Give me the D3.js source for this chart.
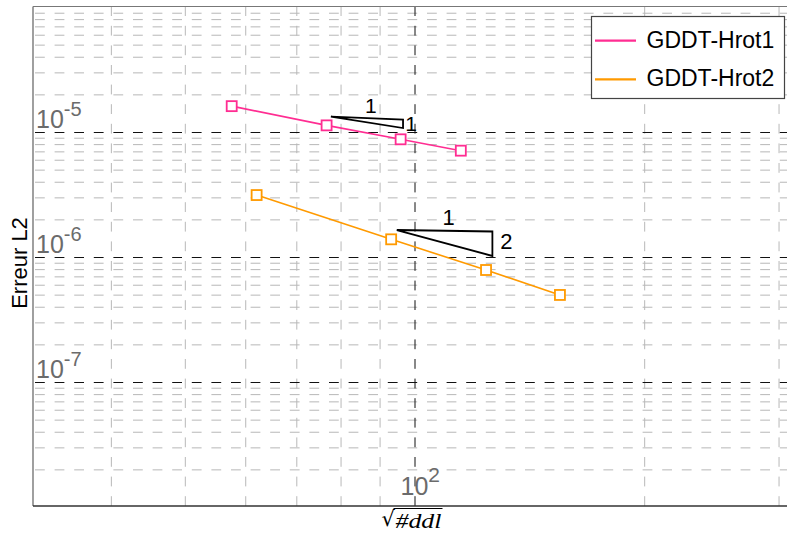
<!DOCTYPE html>
<html><head><meta charset="utf-8">
<script src="https://cdn.jsdelivr.net/npm/d3@7"></script>
<style>body{margin:0;background:#fff;overflow:hidden} svg{display:block}</style>
</head><body>
<svg id="c" width="787" height="533"></svg>
<script>
// ---- data ----
const seriesNames = ["GDDT-Hrot1", "GDDT-Hrot2"];
const seriesColors = ["#ff2d92", "#ff9a00"];
const hrot1X = [57.6, 76.7, 95.9, 115.0];
const hrot1Y = [1.61e-5, 1.13e-5, 8.74e-6, 7.09e-6];
const hrot2X = [62.1, 93.2, 124.1, 155.1];
const hrot2Y = [3.13e-6, 1.385e-6, 7.87e-7, 4.97e-7];
const tri1X = [77.7, 96.6, 96.6];
const tri1Y = [1.326e-5, 1.259e-5, 1.076e-5];
const tri1Labels = ["1", "1"];
const tri2X = [94.8, 126.5, 126.5];
const tri2Y = [1.644e-6, 1.60e-6, 1.019e-6];
const tri2Labels = ["1", "2"];
const yMajorTicks = [1e-5, 1e-6, 1e-7];
const yTickExp = ["-5", "-6", "-7"];
const xMajorTicks = [100];
const xTickExp = ["2"];
const yLabel = "Erreur L2";

// ---- layout ----
const L = 33, R = 796, T = 7, B = 507;
const svg = d3.select("#c");
const x = d3.scaleLog().domain([Math.pow(10, 1.5), Math.pow(10, 2.5)]).range([L, R]);
const y = d3.scaleLog().domain([1e-8, 1e-4]).range([B, T]);
const W = R - L, H = B - T;
const font = "'Liberation Sans', Arial, Helvetica, sans-serif";

const isMajor = v => Math.abs(Math.log10(v) - Math.round(Math.log10(v))) < 1e-9;
const xMinor = x.ticks().filter(v => !isMajor(v));
const yMinor = y.ticks().filter(v => !isMajor(v));

function hGrid(vals, color) {
  const g = svg.append("g").attr("transform", `translate(${L},0)`)
    .call(d3.axisLeft(y).tickValues(vals).tickSize(-W).tickFormat(""));
  g.select(".domain").remove();
  g.selectAll("line").attr("stroke", color).attr("stroke-width", 1)
    .attr("stroke-dasharray", "9.8,9.8").attr("stroke-dashoffset", 17.6);
}
function vGrid(vals, color) {
  const g = svg.append("g").attr("transform", `translate(0,${B - 1})`)
    .call(d3.axisBottom(x).tickValues(vals).tickSize(-(H - 1)).tickFormat(""));
  g.select(".domain").remove();
  g.selectAll("line").attr("stroke", color).attr("stroke-width", 1)
    .attr("stroke-dasharray", "9.8,9.8");
}
hGrid(yMinor, "#b8b8b8");
vGrid(xMinor, "#b8b8b8");
hGrid(yMajorTicks, "#111");
vGrid(xMajorTicks, "#111");

// frame
svg.append("line").attr("x1", L).attr("x2", L).attr("y1", T - 0.5).attr("y2", B - 1)
  .attr("stroke", "#777").attr("stroke-width", 1.4);
svg.append("line").attr("x1", L).attr("x2", 787).attr("y1", T - 0.5).attr("y2", T - 0.5)
  .attr("stroke", "#777").attr("stroke-width", 1.2);
svg.append("line").attr("x1", L).attr("x2", 787).attr("y1", B - 1).attr("y2", B - 1)
  .attr("stroke", "#333").attr("stroke-width", 1.3);

// tick labels (inside plot)
yMajorTicks.forEach((v, i) => {
  const t = svg.append("text").attr("x", L + 3).attr("y", y(v) - 4)
    .attr("font-family", font).attr("font-size", 25).attr("fill", "#6b6b6b");
  t.append("tspan").text("10");
  t.append("tspan").attr("dy", -12).attr("font-size", 20).text(yTickExp[i]);
});
xMajorTicks.forEach((v, i) => {
  const t = svg.append("text").attr("x", x(v) - 14).attr("y", B - 12)
    .attr("font-family", font).attr("font-size", 25).attr("fill", "#6b6b6b");
  t.append("tspan").text("10");
  t.append("tspan").attr("dy", -13).attr("font-size", 21).text(xTickExp[i]);
});

// axis labels
svg.append("text").attr("transform", `translate(26.5,263) rotate(-90)`)
  .attr("text-anchor", "middle").attr("font-family", font).attr("font-size", 22)
  .attr("fill", "#000").text(yLabel);
const xc = x(100);
svg.append("text").attr("x", xc - 33).attr("y", 526).attr("font-family", "'DejaVu Sans', sans-serif")
  .attr("font-size", 21).attr("fill", "#000").text("\u221A");
svg.append("line").attr("x1", xc - 21).attr("x2", xc + 28).attr("y1", 508.5).attr("y2", 508.5)
  .attr("stroke", "#000").attr("stroke-width", 1);
svg.append("text").attr("x", xc - 19).attr("y", 528).attr("font-family", "'Liberation Serif', 'Times New Roman', serif")
  .attr("font-style", "italic").attr("font-size", 21).attr("fill", "#000")
  .attr("textLength", 46).attr("lengthAdjust", "spacingAndGlyphs").text("#ddl");

// series
const series = [
  { name: seriesNames[0], color: seriesColors[0], pts: hrot1X.map((d, i) => [d, hrot1Y[i]]) },
  { name: seriesNames[1], color: seriesColors[1], pts: hrot2X.map((d, i) => [d, hrot2Y[i]]) }
];
const line = d3.line().x(d => x(d[0])).y(d => y(d[1]));
series.forEach(s => {
  svg.append("path").attr("d", line(s.pts)).attr("fill", "none")
    .attr("stroke", s.color).attr("stroke-width", 1.6);
  svg.selectAll(null).data(s.pts).enter().append("rect")
    .attr("x", d => x(d[0]) - 5).attr("y", d => y(d[1]) - 5)
    .attr("width", 10).attr("height", 10)
    .attr("fill", "#fff").attr("stroke", s.color).attr("stroke-width", 1.8);
});

// slope triangles
function triangle(tx, ty, labels, fs, topOff, sideOff) {
  const pts = tx.map((d, i) => [x(d), y(ty[i])]);
  svg.append("path").attr("d", "M" + pts.map(p => p.join(",")).join("L") + "Z")
    .attr("fill", "none").attr("stroke", "#000").attr("stroke-width", 1.8)
    .attr("stroke-linejoin", "miter");
  svg.append("text").attr("x", (pts[0][0] + pts[1][0]) / 2 + topOff[0]).attr("y", pts[0][1] + topOff[1])
    .attr("text-anchor", "middle").attr("font-family", font).attr("font-size", fs).text(labels[0]);
  svg.append("text").attr("x", pts[2][0] + sideOff[0]).attr("y", pts[2][1] + sideOff[1])
    .attr("text-anchor", "middle").attr("font-family", font).attr("font-size", fs).text(labels[1]);
}
triangle(tri1X, tri1Y, tri1Labels, 21, [4, -4], [8, 3]);
triangle(tri2X, tri2Y, tri2Labels, 22, [4, -5], [14, -7]);

// legend
const lg = svg.append("g");
lg.append("rect").attr("x", 591.5).attr("y", 16.5).attr("width", 193).attr("height", 82)
  .attr("fill", "#fff").attr("stroke", "#444").attr("stroke-width", 1.2);
series.forEach((s, i) => {
  const ly = 40.7 + i * 38.6;
  lg.append("line").attr("x1", 595).attr("x2", 636).attr("y1", ly).attr("y2", ly)
    .attr("stroke", s.color).attr("stroke-width", 2.2);
  lg.append("text").attr("x", 646.5).attr("y", ly + 7).attr("font-family", font)
    .attr("font-size", 23).attr("fill", "#000").text(s.name);
});
</script>
</body></html>
